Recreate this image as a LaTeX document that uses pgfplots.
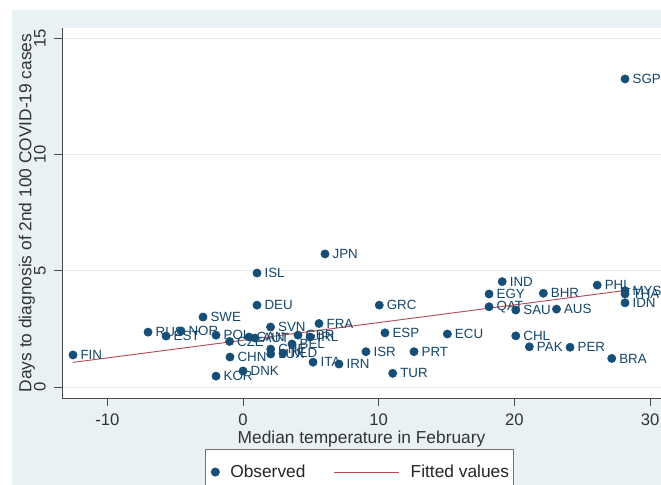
\documentclass[border=0pt]{standalone}
\usepackage{pgfplots}
\usepackage{pgfplotstable}
\pgfplotsset{compat=1.18}
\usetikzlibrary{backgrounds}
\usepackage{fontspec}
\setmainfont{Liberation Sans}
\definecolor{bgc}{RGB}{232,241,243}
\definecolor{navyc}{RGB}{22,78,118}
\definecolor{fitc}{RGB}{180,75,88}
\definecolor{gridc}{RGB}{228,236,238}
\definecolor{axc}{RGB}{75,75,75}

\pgfplotstableread{
x y label
-12.53 1.38 FIN
-7.00 2.36 RUS
-5.67 2.19 EST
-4.57 2.41 NOR
-2.95 3.01 SWE
-1.99 2.23 POL
-1.99 0.47 KOR
-0.99 1.96 CZE
-0.96 1.29 CHN
0.00 0.69 DNK
0.44 2.15 CAN
0.88 2.11 AUT
1.03 3.52 DEU
1.03 4.90 ISL
2.03 2.58 SVN
2.04 1.63 CHE
2.04 1.42 LUX
2.95 1.46 NLD
3.61 1.85 BEL
4.05 2.23 GBR
4.94 2.15 IRL
5.16 1.07 ITA
5.60 2.73 FRA
6.04 5.72 JPN
7.07 0.99 IRN
9.06 1.52 ISR
10.04 3.52 GRC
10.46 2.33 ESP
11.03 0.59 TUR
12.60 1.52 PRT
15.06 2.28 ECU
18.13 4.00 EGY
18.13 3.45 QAT
19.10 4.53 IND
20.10 3.31 SAU
20.10 2.20 CHL
21.10 1.73 PAK
22.13 4.03 BHR
23.10 3.35 AUS
24.10 1.71 PER
26.10 4.38 PHL
27.17 1.23 BRA
28.15 4.14 MYS
28.15 4.00 THA
28.15 3.62 IDN
28.15 13.24 SGP
}\obs

\pgfplotstableread{
x y
-12.53 1.06
28.15 4.15
}\fit

\begin{document}
\begin{tikzpicture}[x=1pt,y=1pt]
\begin{axis}[
  scale only axis, width=449.25pt, height=277.5pt,
  xmin=-13.34, xmax=30.8, ymin=-0.47, ymax=15.43,
  axis x line*=bottom, axis y line*=left,
  axis line style={axc, line width=0.6pt},
  axis background/.style={fill=white},
  xtick={-10,0,10,20,30}, ytick={0,5,10,15},
  tick align=outside, major tick length=6pt,
  tick style={axc, line width=0.6pt},
  ymajorgrids, major grid style={gridc, line width=0.5pt},
  /pgf/number format/assume math mode=true,
  xticklabel style={font=\fontsize{12.5}{14}\selectfont, text=black!80, anchor=center},
  xticklabel shift=10.5pt,
  yticklabel style={font=\fontsize{12.5}{14}\selectfont, text=black!80, rotate=90, anchor=center},
  yticklabel shift=10.5pt,
  xlabel={Median temperature in February},
  ylabel={Days to diagnosis of 2nd 100 COVID-19 cases},
  xlabel style={font=\fontsize{13}{15}\selectfont, text=black!80, yshift=3pt},
  ylabel style={font=\fontsize{13}{15}\selectfont, text=black!80, yshift=-7.5pt},
  legend columns=2,
  legend style={at={(axis description cs:0.2387,-0.138)}, anchor=north west,
    draw=black!55, fill=white, line width=0.5pt,
    font=\fontsize{13}{15}\selectfont, text=black!85,
    inner xsep=3pt, inner ysep=3pt,
    nodes={inner sep=0pt},
    /tikz/column sep=0pt,
    /tikz/every even column/.append style={column sep=20.85pt}},
]
\coordinate (bl) at (rel axis cs:0,0);
\addplot[only marks, mark=*, mark size=3.1pt, color=navyc,
  mark options={draw=navyc, fill=navyc},
  point meta=explicit symbolic, nodes near coords,
  nodes near coords style={anchor=west, inner sep=0pt, xshift=5.5pt,
    font=\fontsize{10}{12}\selectfont, text=navyc!90!black},
  legend image code/.code={\path[draw=none,fill=none] (0pt,-10pt) rectangle (15.75pt,14pt); \fill[navyc] (4.5pt,0pt) circle (3.1pt);}
] table[x=x, y=y, meta=label] {\obs};
\addlegendentry{Observed}
\addplot[fitc, line width=0.7pt, no marks,
  legend image code/.code={\path[draw=none,fill=none] (0pt,-10pt) rectangle (57.75pt,14pt); \draw[fitc, line width=0.7pt] (0pt,0pt) -- (48.75pt,0pt);}
] table[x=x, y=y] {\fit};
\addlegendentry{Fitted values}
\end{axis}
\begin{scope}[on background layer, shift={(bl)}]
\fill[white] (-46.5,-65.25) rectangle (449.25,298.5);
\fill[bgc] (-37.5,-65.25) rectangle (449.25,291);
\end{scope}
\pgfresetboundingbox
\path[use as bounding box, shift={(bl)}] (-46.5,-65.25) rectangle (449.25,298.5);
\end{tikzpicture}
\end{document}
